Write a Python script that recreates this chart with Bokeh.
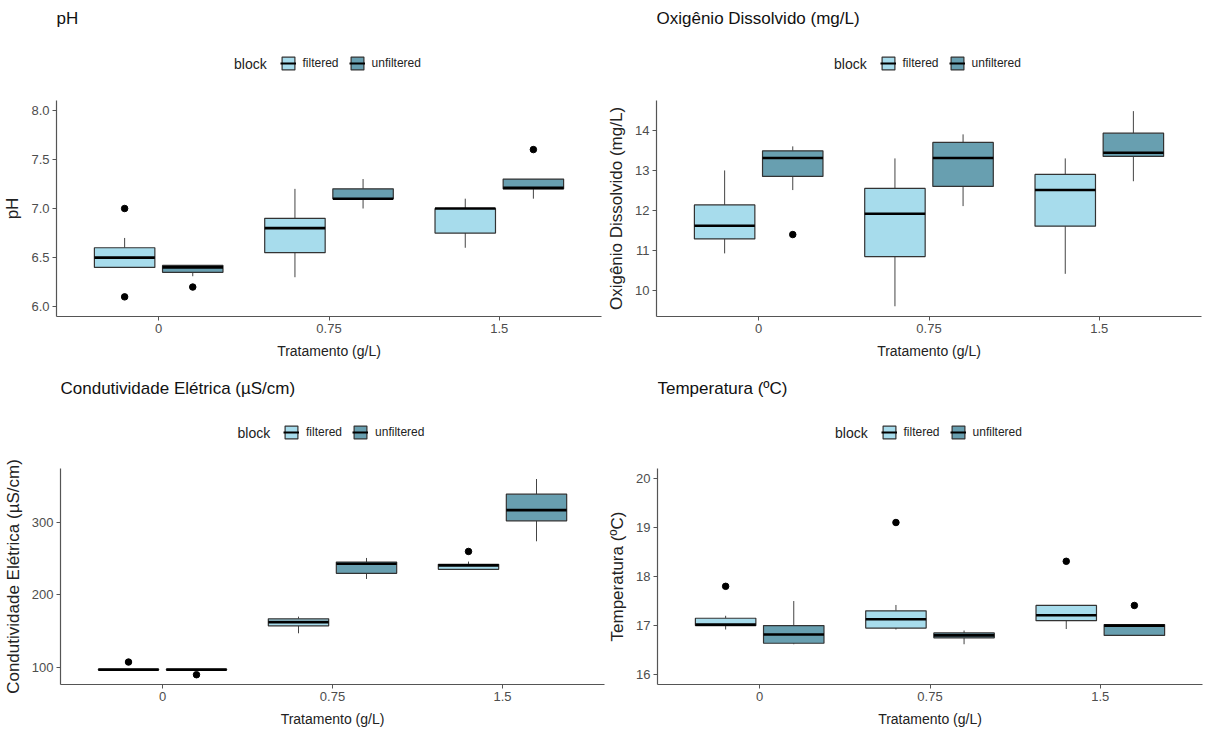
from bokeh.plotting import figure
from bokeh.models import (ColumnDataSource, Range1d, FactorRange, FixedTicker,
                          PrintfTickFormatter, Label, Legend, LegendItem)
from bokeh.transform import dodge
from bokeh.layouts import column, row
from bokeh.embed import file_html
from bokeh.resources import INLINE

# ---------------- data ----------------
treatments = ["0", "0.75", "1.5"]
blocks = ["filtered", "unfiltered"]

# each row: (lower whisker, Q1, median, Q3, upper whisker) for treatments 0, 0.75, 1.5
ph_filtered = [(6.4, 6.4, 6.5, 6.6, 6.7), (6.3, 6.55, 6.8, 6.9, 7.2), (6.6, 6.75, 7.0, 7.0, 7.1)]
ph_unfiltered = [(6.31, 6.35, 6.4, 6.42, 6.42), (7.0, 7.1, 7.1, 7.2, 7.3), (7.1, 7.2, 7.21, 7.3, 7.3)]
ph_filtered_out = [[6.1, 7.0], [], []]
ph_unfiltered_out = [[6.2], [], [7.6]]

od_filtered = [(10.93, 11.29, 11.62, 12.14, 13.0), (9.61, 10.85, 11.92, 12.55, 13.3), (10.42, 11.61, 12.51, 12.9, 13.3)]
od_unfiltered = [(12.51, 12.85, 13.31, 13.49, 13.6), (12.11, 12.6, 13.31, 13.7, 13.9), (12.73, 13.35, 13.44, 13.93, 14.48)]
od_filtered_out = [[], [], []]
od_unfiltered_out = [[11.4], [], []]

ce_filtered = [(96.6, 96.6, 96.9, 97.2, 97.2), (147, 157.3, 162.4, 167, 170), (235.3, 235.3, 240.8, 242.2, 246)]
ce_unfiltered = [(96.6, 96.6, 96.9, 97.2, 97.2), (222, 229.8, 243, 245.4, 251), (274, 302.3, 317, 339, 360)]
ce_filtered_out = [[107.3], [], [260]]
ce_unfiltered_out = [[89.8], [], []]

t_filtered = [(16.92, 17.0, 17.02, 17.15, 17.2), (16.92, 16.95, 17.13, 17.3, 17.42), (16.93, 17.1, 17.21, 17.41, 17.41)]
t_unfiltered = [(16.62, 16.64, 16.82, 17.0, 17.5), (16.62, 16.75, 16.8, 16.85, 16.9), (16.8, 16.8, 17.0, 17.02, 17.02)]
t_filtered_out = [[17.8], [19.1], [18.31]]
t_unfiltered_out = [[], [], [17.41]]

ph_ticks = [6.0, 6.5, 7.0, 7.5, 8.0]
od_ticks = [10, 11, 12, 13, 14]
ce_ticks = [100, 200, 300]
t_ticks = [16, 17, 18, 19, 20]

# ---------------- style ----------------
FILL = {"filtered": "#A7DCEC", "unfiltered": "#689FB0"}
OFFSET = {"filtered": -0.2, "unfiltered": 0.2}
BOX_W = 0.355
REG = "'Liberation Sans', Arial, sans-serif"
FH = 216
AXC = "#555555"
PANEL_W = 603
NAN = float("nan")


def header(title, left, fw, right, head_h, title_y, legend_y):
    # the header's frame is aligned with the plot frame below it (same borders)
    h = figure(width=PANEL_W, height=head_h, x_range=Range1d(0, 1), y_range=Range1d(0, 1),
               x_axis_type=None, y_axis_type=None,
               min_border_left=left, min_border_right=right,
               min_border_top=0, min_border_bottom=0,
               output_backend="svg", toolbar_location=None)
    h.outline_line_color = None
    h.xgrid.visible = False
    h.ygrid.visible = False
    items = []
    for blk in blocks:
        # legend-key proxies (no drawable coordinates)
        proxy = ColumnDataSource(dict(x=[NAN], b=[NAN], t=[NAN], y=[NAN]))
        box = h.vbar(x="x", width=1, bottom="b", top="t", source=proxy,
                     fill_color=FILL[blk], line_color="#333333", line_width=1.2)
        med = h.segment(x0="x", y0="y", x1="x", y1="y", source=proxy,
                        line_color="black", line_width=2)
        items.append(LegendItem(label=blk, renderers=[box, med]))
    center = fw / 2
    leg = Legend(items=items, location=(center - 49, head_h - legend_y - 8),
                 orientation="horizontal", glyph_width=16, glyph_height=16,
                 label_height=16, padding=0, margin=0, spacing=10, label_standoff=7,
                 label_text_font_size="12px", label_text_font=REG,
                 label_text_color="#222222",
                 border_line_color=None, background_fill_alpha=0)
    h.add_layout(leg)
    h.add_layout(Label(x=center - 95, y=head_h - legend_y, x_units="screen", y_units="screen",
                       text="block", text_font_size="14px", text_font=REG,
                       text_baseline="middle", text_color="#222222"))
    h.add_layout(Label(x=0, y=head_h - title_y, x_units="screen", y_units="screen",
                       text=title, text_font_size="17px", text_font=REG,
                       text_baseline="middle", text_color="#111111"))
    return h


def panel(title, ylab, filt, unfilt, filt_out, unfilt_out, ylim, yticks, fmt,
          left, fw, right, head_h, title_y, legend_y, bottom):
    p = figure(x_range=FactorRange(*treatments, range_padding=0.2 / 3),
               y_range=Range1d(*ylim),
               frame_width=fw, frame_height=FH,
               min_border_left=left, min_border_right=right,
               min_border_top=10, min_border_bottom=bottom,
               output_backend="svg", toolbar_location=None)
    p.outline_line_color = None
    p.xgrid.visible = False
    p.ygrid.visible = False
    p.background_fill_color = "white"
    p.border_fill_color = "white"

    for blk, stats, outs in (("filtered", filt, filt_out), ("unfiltered", unfilt, unfilt_out)):
        src = ColumnDataSource(dict(
            cat=treatments,
            lo=[s[0] for s in stats], q1=[s[1] for s in stats], med=[s[2] for s in stats],
            q3=[s[3] for s in stats], hi=[s[4] for s in stats]))
        off = OFFSET[blk]
        xc = dodge("cat", off, range=p.x_range)
        p.segment(x0=xc, y0="lo", x1=xc, y1="q1", source=src, line_color="#444444", line_width=1)
        p.segment(x0=xc, y0="q3", x1=xc, y1="hi", source=src, line_color="#444444", line_width=1)
        p.vbar(x=xc, width=BOX_W, bottom="q1", top="q3", source=src,
               fill_color=FILL[blk], line_color="#333333", line_width=1.2)
        p.segment(x0=dodge("cat", off - BOX_W / 2, range=p.x_range), y0="med",
                  x1=dodge("cat", off + BOX_W / 2, range=p.x_range), y1="med",
                  source=src, line_color="black", line_width=2.6)
        ocat, oval = [], []
        for c, vals in zip(treatments, outs):
            for v in vals:
                ocat.append(c)
                oval.append(v)
        osrc = ColumnDataSource(dict(cat=ocat, val=oval))
        p.scatter(x=dodge("cat", off, range=p.x_range), y="val", source=osrc,
                  size=6.5, fill_color="black", line_color="black")

    for ax in (p.xaxis[0], p.yaxis[0]):
        ax.axis_line_color = AXC
        ax.axis_line_width = 1.2
        ax.major_tick_line_color = AXC
        ax.major_tick_out = 4
        ax.major_tick_in = 0
        ax.minor_tick_line_color = None
        ax.major_label_text_font = REG
        ax.major_label_text_font_size = "13px"
        ax.major_label_text_color = "#4D4D4D"
        ax.major_label_standoff = 3
        ax.axis_label_text_font_style = "normal"
        ax.axis_label_text_color = "#222222"

    p.xaxis.axis_label = "Tratamento (g/L)"
    p.xaxis.axis_label_text_font = REG
    p.xaxis.axis_label_text_font_size = "14px"
    p.xaxis.axis_label_standoff = 7

    p.yaxis.axis_label = ylab
    p.yaxis.axis_label_text_font = REG
    p.yaxis.axis_label_text_font_size = "17px"
    p.yaxis.axis_label_standoff = 6
    p.yaxis.ticker = FixedTicker(ticks=yticks)
    p.yaxis.formatter = PrintfTickFormatter(format=fmt)

    h = header(title, left, fw, right, head_h, title_y, legend_y)
    return column(h, p, spacing=0)


# top row: header 90 px (+10 border) -> frame top at 100; bottom row: 92 px -> frame top at 102
c1 = panel("pH", "pH", ph_filtered, ph_unfiltered, ph_filtered_out, ph_unfiltered_out,
           (5.9, 8.1), ph_ticks, "%.1f", 55, 545, 3, 90, 18, 63, 50)
c2 = panel("Oxigênio Dissolvido (mg/L)", "Oxigênio Dissolvido (mg/L)",
           od_filtered, od_unfiltered, od_filtered_out, od_unfiltered_out,
           (9.355, 14.745), od_ticks, "%d", 52, 545, 6, 90, 18, 63, 50)
c3 = panel("Condutividade Elétrica (µS/cm)", "Condutividade Elétrica (µS/cm)",
           ce_filtered, ce_unfiltered, ce_filtered_out, ce_unfiltered_out,
           (76.3, 374.5), ce_ticks, "%d", 58, 544, 1, 92, 22, 66, 48)
c4 = panel("Temperatura (ºC)", "Temperatura (ºC)",
           t_filtered, t_unfiltered, t_filtered_out, t_unfiltered_out,
           (15.8, 20.2), t_ticks, "%d", 52, 545, 6, 92, 22, 66, 48)

layout = column(row(c1, c2, spacing=0), row(c3, c4, spacing=0), spacing=0)
open("out.html", "w").write(file_html(layout, INLINE))
